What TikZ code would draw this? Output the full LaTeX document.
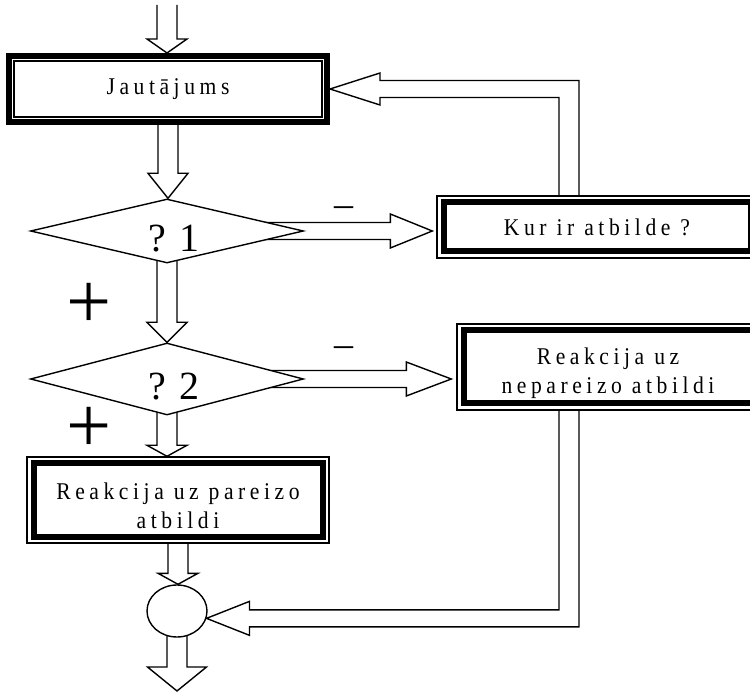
\documentclass[tikz,border=0pt]{standalone}
\usepackage{fontspec}
\setmainfont{Liberation Serif}
\newfontfamily\boxfont[LetterSpace=19,FakeStretch=0.9]{Liberation Serif}
\usetikzlibrary{shapes.geometric, calc, backgrounds}

\newcommand{\tallline}{\rule{0pt}{29pt}}
\newcommand{\downarr}[4][20pt]{%
  \draw[blk] let \p1=(#2), \p2=(#3) in
    (\x1-10pt,\y1) -- (\x1-10pt,\y2+#4) -- (\x1-#1,\y2+#4) -- (\x1,\y2)
    -- (\x1+#1,\y2+#4) -- (\x1+10pt,\y2+#4) -- (\x1+10pt,\y1);}
\newcommand{\rightarr}[3]{%
  \draw[blk] let \p1=(#1), \p2=(#2) in
    (\x1,\y1+8.5pt) -- (\x2-#3,\y1+8.5pt) -- (\x2-#3,\y1+17pt) -- (\x2,\y1)
    -- (\x2-#3,\y1-17pt) -- (\x2-#3,\y1-8.5pt) -- (\x1,\y1-8.5pt);}
\newcommand{\upleftarr}[3]{%
  \draw[blk] let \p1=(#1), \p2=(#2) in
    (\x1-10pt,\y1) -- (\x1-10pt,\y2-8.5pt) -- (\x2+#3,\y2-8.5pt) -- (\x2+#3,\y2-16pt)
    -- (\x2,\y2) -- (\x2+#3,\y2+16pt) -- (\x2+#3,\y2+8.5pt) -- (\x1+10pt,\y2+8.5pt)
    -- (\x1+10pt,\y1);}
\newcommand{\downleftarr}[3]{%
  \draw[blk] let \p1=(#1), \p2=(#2) in
    (\x1-10pt,\y1) -- (\x1-10pt,\y2+8.5pt) -- (\x2+#3,\y2+8.5pt) -- (\x2+#3,\y2+17pt)
    -- (\x2,\y2) -- (\x2+#3,\y2-17pt) -- (\x2+#3,\y2-8.5pt) -- (\x1+10pt,\y2-8.5pt)
    -- (\x1+10pt,\y1);}

\begin{document}
\begin{tikzpicture}[
  x=1pt, y=1pt,
  thickbox/.style={draw, line width=6pt, fill=white, align=center,
                   font=\boxfont\fontsize{24}{29}\selectfont,
                   path picture={\draw[line width=1.4pt]
                     ([shift={(5pt,-5pt)}]path picture bounding box.north west) rectangle
                     ([shift={(-5pt,5pt)}]path picture bounding box.south east);}},
  thinbox/.style={draw, line width=1.4pt, fill=white, align=center,
                  font=\boxfont\fontsize{24}{29}\selectfont,
                  path picture={\draw[line width=6pt]
                    ([shift={(6.5pt,-6.5pt)}]path picture bounding box.north west) rectangle
                    ([shift={(-6.5pt,6.5pt)}]path picture bounding box.south east);}},
  decision/.style={diamond, draw, line width=1.4pt, fill=white, aspect=4,
                   inner sep=0pt, minimum width=273pt, minimum height=64pt,
                   font=\fontsize{40}{40}\selectfont, text height=41pt, text depth=0pt},
  joint/.style={ellipse, draw, line width=1.4pt, fill=white, inner sep=0pt,
                minimum width=60pt, minimum height=52pt},
  sign/.style={inner sep=0pt, font=\fontsize{38}{38}\selectfont},
  plus/.style={inner sep=0pt, font=\fontsize{80}{80}\selectfont},
  blk/.style={draw, line width=1.4pt, line join=miter}
]
\useasboundingbox (0,0) rectangle (750,-692);

\coordinate (in) at (167,-5);
\node[thickbox, minimum width=318pt, minimum height=66pt] (ask) at (168,-89) {Jautājums};
\node[decision] (q1) at (167,-231) {\hspace*{14pt}? 1};
\node[decision, minimum height=72pt] (q2) at (167,-379) {\hspace*{14pt}? 2};
\node[thinbox, minimum width=320pt, minimum height=62pt] (where) at (597,-227) {Kur ir atbilde ?};
\node[thinbox, minimum width=302pt, minimum height=86pt] (wrong) at (608,-367)
  {\tallline Reakcija uz\\nepareizo atbildi};
\node[thinbox, minimum width=302pt, minimum height=86pt] (right) at (178,-500)
  {\tallline Reakcija uz pareizo\\atbildi};
\node[joint] (join) at (177,-611) {};
\coordinate (out) at (177,-691);

\node[sign] (no1) at (344,-212) {–};
\node[sign] (no2) at (344,-352) {–};
\node[plus] (yes1) at (89,-306) {+};
\node[plus] (yes2) at (89,-430) {+};

\begin{pgfonlayer}{background}
\downarr{in}{ask.north}{14pt}
\downarr{ask.center}{q1.north}{25pt}
\downarr{q1.center}{q2.north}{20pt}
\downarr{q2.center}{right.north}{11pt}
\downarr{right.center}{join.north}{11pt}
\downarr[29.5pt]{join.center}{out}{24pt}
\rightarr{q1.center}{[xshift=-4pt]where.west}{42pt}
\rightarr{q2.center}{[xshift=-5pt]wrong.west}{45pt}
\upleftarr{[xshift=-28pt]where.center}{ask.east}{50pt}
\downleftarr{[xshift=-39pt]wrong.center}{join.-14}{43pt}
\end{pgfonlayer}
\end{tikzpicture}
\end{document}
